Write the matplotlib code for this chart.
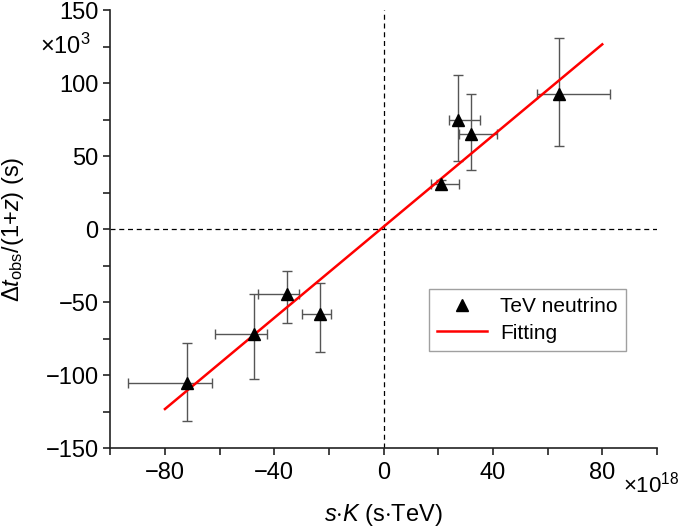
import matplotlib
matplotlib.use('Agg')
import matplotlib.pyplot as plt
from matplotlib.ticker import MultipleLocator, FuncFormatter
import numpy as np

plt.rcParams['font.family'] = ['Liberation Sans', 'DejaVu Sans']
plt.rcParams['mathtext.fontset'] = 'custom'
plt.rcParams['mathtext.rm'] = 'Liberation Sans'
plt.rcParams['mathtext.it'] = 'Liberation Sans:italic'

# data (x in 1e18 s*TeV, y in 1e3 s)
x_vals = np.array([-72.0, -47.5, -35.3, -23.1, 20.9, 27.2, 31.9, 64.1])
y_vals = np.array([-105.5, -71.9, -44.7, -58.4, 30.8, 74.7, 65.1, 92.5])
x_err_lo = np.array([21.6, 14.1, 10.5, 6.7, 3.4, 3.4, 4.3, 7.9])
x_err_hi = np.array([9.1, 5.0, 4.5, 3.9, 6.7, 7.9, 9.7, 18.9])
y_err_lo = np.array([26.0, 30.8, 19.9, 25.8, 3.0, 27.9, 24.7, 35.5])
y_err_hi = np.array([27.6, 27.2, 16.2, 21.2, 3.0, 31.0, 27.1, 38.5])

fit_x = [-80, 80]
fit_y = [-123.3, 126.5]

fig = plt.figure(figsize=(6.85, 5.28), dpi=100)
ax = fig.add_axes([0.161, 0.1515, 0.798, 0.8295])

ax.axhline(0, color='black', linestyle='--', linewidth=0.9, dashes=(4, 3), zorder=1)
ax.axvline(0, color='black', linestyle='--', linewidth=0.9, dashes=(4, 3), zorder=1)

ax.errorbar(x_vals, y_vals, xerr=[x_err_lo, x_err_hi], yerr=[y_err_lo, y_err_hi],
            fmt='none', ecolor='#555555', elinewidth=1.0, capsize=3.5, capthick=1.0, zorder=2)
ax.plot(fit_x, fit_y, color='red', linewidth=1.8, label='Fitting', zorder=3)
ax.plot(x_vals, y_vals, linestyle='none', marker='^', color='black', markersize=9,
        label='TeV neutrino', zorder=4)

ax.set_xlim(-100, 100)
ax.set_ylim(-150, 150)

ax.spines['top'].set_visible(False)
ax.spines['right'].set_visible(False)
for s in ['left', 'bottom']:
    ax.spines[s].set_linewidth(1.2)
    ax.spines[s].set_color('#222222')

ax.xaxis.set_major_locator(MultipleLocator(40))
ax.xaxis.set_minor_locator(MultipleLocator(20))
ax.yaxis.set_major_locator(MultipleLocator(50))
ax.yaxis.set_minor_locator(MultipleLocator(25))

def fmt_x(v, pos):
    if abs(v) > 90:
        return ''
    return f'{int(v)}'.replace('-', '\u2212')

def fmt_y(v, pos):
    return f'{int(v)}'.replace('-', '\u2212')

ax.xaxis.set_major_formatter(FuncFormatter(fmt_x))
ax.yaxis.set_major_formatter(FuncFormatter(fmt_y))
ax.tick_params(which='both', direction='out', length=5, width=1.2, color='#222222',
               labelsize=17)
ax.tick_params(axis='x', pad=5)

ax.text(-0.035, 125, '\u00d710$^3$', transform=ax.get_yaxis_transform(),
        ha='right', va='center', fontsize=17)
ax.text(87.5, -0.083, '\u00d710$^{18}$', transform=ax.get_xaxis_transform(),
        ha='left', va='center', fontsize=16)

ax.set_xlabel(r'$s$$\cdot$$K$ (s$\cdot$TeV)', fontsize=17)
ax.xaxis.set_label_coords(0.5, -0.124)
ax.set_ylabel(r'$\Delta t_{\rm obs}$/(1+$z$) (s)', fontsize=17)
ax.yaxis.set_label_coords(-0.155, 0.5)

handles, labels = ax.get_legend_handles_labels()
leg = ax.legend(handles[::-1], labels[::-1], loc='upper left', bbox_to_anchor=(0.583, 0.363),
                fontsize=15, frameon=True, fancybox=False, edgecolor='#888888',
                handlelength=2.4, handletextpad=0.6, borderpad=0.4, labelspacing=0.35,
                borderaxespad=0)
leg.get_frame().set_linewidth(1.0)

plt.savefig('out.png', dpi=100)
plt.close()
